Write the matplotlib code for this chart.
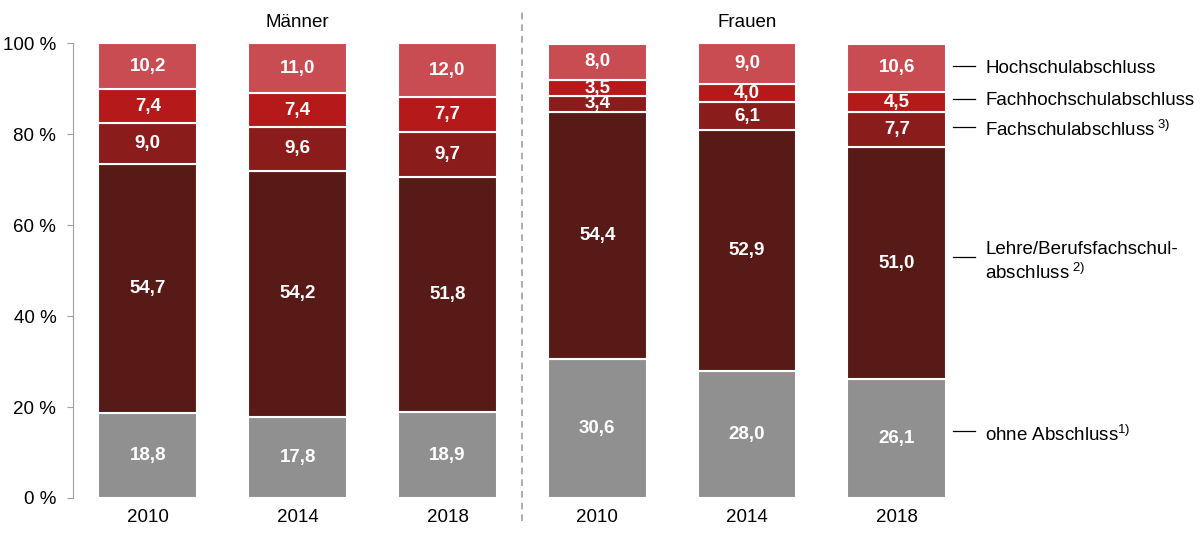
import matplotlib.pyplot as plt
import numpy as np

plt.rcParams['font.family'] = ['Liberation Sans', 'DejaVu Sans']
plt.rcParams['mathtext.fontset'] = 'custom'
plt.rcParams['mathtext.rm'] = 'Liberation Sans'
plt.rcParams['mathtext.it'] = 'Liberation Sans'

years = ['2010', '2014', '2018', '2010', '2014', '2018']
groups = ['Männer', 'Frauen']

# bottom -> top
ohne = [18.8, 17.8, 18.9, 30.6, 28.0, 26.1]
lehre = [54.7, 54.2, 51.8, 54.4, 52.9, 51.0]
fachschul = [9.0, 9.6, 9.7, 3.4, 6.1, 7.7]
fachhoch = [7.4, 7.4, 7.7, 3.5, 4.0, 4.5]
hochschul = [10.2, 11.0, 12.0, 8.0, 9.0, 10.6]

series = [ohne, lehre, fachschul, fachhoch, hochschul]
colors = ['#8f908f', '#581a16', '#8a1c1c', '#b5191a', '#c84c52']
legend_labels = [r'ohne Abschluss$^{1)}$',
                 'Lehre/Berufsfachschul-\nabschluss$^{\\ 2)}$',
                 r'Fachschulabschluss$^{\ 3)}$',
                 'Fachhochschulabschluss',
                 'Hochschulabschluss']

fs = 13.5
fig = plt.figure(figsize=(12, 5.33), dpi=100)
ax = fig.add_axes([0.0608, 0.0657, 0.749, 0.853])

x = np.arange(len(years))
bottom = np.zeros(len(years))
for vals, col in zip(series, colors):
    vals = np.array(vals)
    ax.bar(x, vals, 0.66, bottom=bottom, color=col, edgecolor='white', linewidth=1.5)
    for xi, b, v in zip(x, bottom, vals):
        ax.text(xi, b + v / 2, f'{v:.1f}'.replace('.', ','), ha='center', va='center',
                color='white', fontsize=fs, fontweight='bold')
    bottom += vals

ax.set_xlim(-0.5, 5.5)
ax.set_ylim(0, 100)
ax.set_xticks(x)
ax.set_xticklabels(years, fontsize=fs)
ax.tick_params(axis='x', length=0, pad=8)
ax.set_yticks(range(0, 101, 20))
ax.set_yticklabels([f'{v} %' for v in range(0, 101, 20)], fontsize=fs)
ax.tick_params(axis='y', length=4, color='#a0a0a0', pad=8)
for s in ['top', 'right', 'bottom']:
    ax.spines[s].set_visible(False)
ax.spines['left'].set_color('#a0a0a0')

ax.axvline(2.5, ymin=-0.05, ymax=1.075, color='#a0a0a0', linestyle=(0, (4, 3)),
           linewidth=1.2, clip_on=False)
ax.text(1, 104.5, groups[0], ha='center', va='center', fontsize=fs)
ax.text(4, 104.5, groups[1], ha='center', va='center', fontsize=fs)

# legend on the right
line_y = [14.7, 53.0, 81.5, 87.8, 95.0]
text_y = [13.9, 56.5, 81.0, 87.5, 94.5]
for lab, ly, ty in zip(legend_labels, line_y, text_y):
    ax.plot([5.374, 5.52], [ly, ly], color='black', linewidth=0.9, clip_on=False)
    ax.text(5.59, ty, lab, ha='left', va='top' if '\n' in lab else 'center', fontsize=fs,
            linespacing=1.3)

fig.savefig('out.png', dpi=100)
